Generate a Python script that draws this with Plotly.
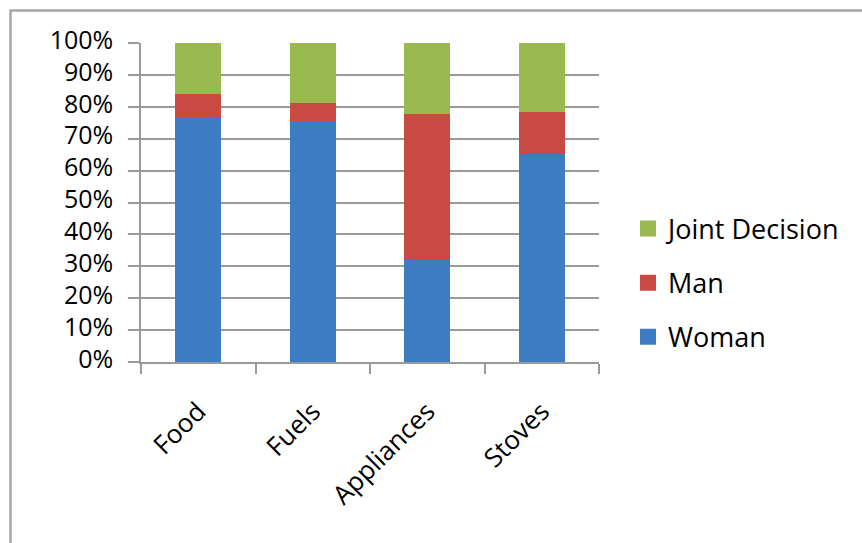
import plotly.graph_objects as go

# Who makes the purchasing decision, share of households (%)
categories = ["Food", "Fuels", "Appliances", "Stoves"]
woman = [76.7, 75.5, 32.4, 65.3]
man = [7.3, 5.7, 45.4, 13.1]
joint = [16.0, 18.8, 22.2, 21.6]
y_ticks = [0, 10, 20, 30, 40, 50, 60, 70, 80, 90, 100]
y_tick_labels = [f"{v}%" for v in y_ticks]

series = [
    ("Woman", woman, "#3d7cc0"),
    ("Man", man, "#c84a42"),
    ("Joint Decision", joint, "#9aba4f"),
]

FONT = "Open Sans"
GRID = "#9a9a9a"

fig = go.Figure()
for name, vals, color in series:
    fig.add_trace(go.Bar(
        x=categories, y=vals, name=name, legendgroup=name, showlegend=False,
        marker=dict(color=color, line=dict(width=0)),
    ))

# Legend keys with larger square swatches, top entry = top of the stack
for name, _, color in reversed(series):
    fig.add_trace(go.Scatter(
        x=[None], y=[None], mode="markers", name=name, legendgroup=name,
        marker=dict(symbol="square", size=16, color=color),
    ))

W, H = 862, 543
ml, mr, mt, mb = 141, 263, 43, 181
pw, ph = W - ml - mr, H - mt - mb

def px_x(p):
    return (p - ml) / pw

def px_y(p):
    return (mt + ph - p) / ph

fig.update_layout(
    width=W, height=H,
    margin=dict(l=ml, r=mr, t=mt, b=mb, pad=0),
    barmode="stack", barnorm="percent", bargap=0.6,
    paper_bgcolor="white", plot_bgcolor="white",
    font=dict(family=FONT, size=25, color="black"),
    legend=dict(
        x=px_x(628), y=px_y(283), xanchor="left", yanchor="middle",
        traceorder="grouped", tracegroupgap=16,
        font=dict(family=FONT, size=27, color="black"),
        bgcolor="rgba(0,0,0,0)",
    ),
    xaxis=dict(
        type="category", tickangle=-45,
        showline=True, linecolor=GRID, linewidth=1.5,
        ticks="outside", tickson="boundaries", ticklen=10, tickcolor=GRID, tickwidth=1.5,
        showgrid=False, ticklabelstandoff=22,
        tickfont=dict(family=FONT, size=26, color="black"),
    ),
    yaxis=dict(
        range=[0, 100], tickvals=y_ticks, ticktext=y_tick_labels,
        showline=True, linecolor=GRID, linewidth=1.5,
        ticks="outside", ticklen=11, tickcolor=GRID, tickwidth=1.5,
        showgrid=True, gridcolor=GRID, gridwidth=1.5,
        zeroline=False, ticklabelstandoff=10, ticklabelshift=-3,
        tickfont=dict(family=FONT, size=25, color="black"),
    ),
    shapes=[dict(
        type="rect", xref="paper", yref="paper",
        x0=px_x(10.5), x1=px_x(W + 40), y0=px_y(H + 40), y1=px_y(10.5),
        line=dict(color="#a6a6a6", width=2.5), fillcolor="rgba(0,0,0,0)",
        layer="below",
    )],
)

fig.write_html("out.html")
